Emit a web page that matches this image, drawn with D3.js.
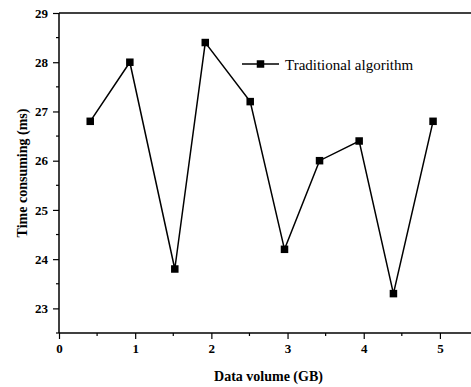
<!DOCTYPE html>
<html>
<head>
<meta charset="utf-8">
<script src="https://cdn.jsdelivr.net/npm/d3@7"></script>
<style>
  body { margin: 0; background: #fff; }
  svg { display: block; }
  text { font-family: "Liberation Serif", "Times New Roman", serif; }
</style>
</head>
<body>
<div id="chart"></div>
<script>
// data
var dataVolume = [0.41, 0.93, 1.52, 1.92, 2.51, 2.96, 3.42, 3.94, 4.39, 4.91];
var timeConsuming = [26.8, 28.0, 23.8, 28.4, 27.2, 24.2, 26.0, 26.4, 23.3, 26.8];
var xTicks = [0, 1, 2, 3, 4, 5];
var yTicks = [23, 24, 25, 26, 27, 28, 29];
var seriesName = "Traditional algorithm";

var W = 471, H = 387;
var margin = {top: 13, left: 59, bottom: 54, right: -7};
var width = W - margin.left - margin.right,
    height = H - margin.top - margin.bottom;

var svg = d3.select("#chart").append("svg")
    .attr("width", W).attr("height", H);
var g = svg.append("g")
    .attr("transform", `translate(${margin.left}, ${margin.top})`);

var x = d3.scaleLinear().domain([0, 5.5]).range([0, width]);
var y = d3.scaleLinear().domain([22.5, 29]).range([height, 0]);

// minor ticks (half steps)
var xMinor = d3.range(0.5, 5.5, 1);
var yMinor = d3.range(22.5, 29, 1);

g.selectAll(".xminor").data(xMinor).enter().append("line")
    .attr("x1", d => x(d)).attr("x2", d => x(d))
    .attr("y1", height).attr("y2", height + 3)
    .attr("stroke", "#000").attr("stroke-width", 1.2);
g.selectAll(".yminor").data(yMinor).enter().append("line")
    .attr("x1", 0).attr("x2", -3)
    .attr("y1", d => y(d)).attr("y2", d => y(d))
    .attr("stroke", "#000").attr("stroke-width", 1.2);

var xAxis = g.append("g")
    .attr("transform", `translate(0, ${height})`)
    .call(d3.axisBottom(x).tickValues(xTicks).tickSize(6).tickPadding(5).tickFormat(d3.format("d")));
var yAxis = g.append("g")
    .call(d3.axisLeft(y).tickValues(yTicks).tickSize(6).tickPadding(5).tickFormat(d3.format("d")));

[xAxis, yAxis].forEach(a => {
  a.select(".domain").attr("stroke", "#000").attr("stroke-width", 1.5);
  a.selectAll(".tick line").attr("stroke", "#000").attr("stroke-width", 1.2);
  a.selectAll(".tick text")
    .attr("fill", "#000")
    .style("font-family", "Liberation Serif, serif")
    .style("font-weight", "bold")
    .style("font-size", "13px");
});
yAxis.select(".domain").attr("d", `M0,${height}V0`);
xAxis.select(".domain").attr("d", `M0,0H${width}`);

// top frame line
g.append("line")
    .attr("x1", 0).attr("x2", width)
    .attr("y1", 0).attr("y2", 0)
    .attr("stroke", "#000").attr("stroke-width", 1.5);

var points = dataVolume.map((v, i) => ({x: v, y: timeConsuming[i]}));

g.append("path")
    .datum(points)
    .attr("fill", "none")
    .attr("stroke", "#000")
    .attr("stroke-width", 1.5)
    .attr("d", d3.line().x(d => x(d.x)).y(d => y(d.y)));

var s = 7.5;
g.selectAll(".pt").data(points).enter().append("rect")
    .attr("x", d => x(d.x) - s / 2)
    .attr("y", d => y(d.y) - s / 2)
    .attr("width", s).attr("height", s)
    .attr("fill", "#000");

// legend
var leg = svg.append("g").attr("transform", "translate(242, 64)");
leg.append("line").attr("x1", 0).attr("x2", 37).attr("y1", 0).attr("y2", 0)
    .attr("stroke", "#000").attr("stroke-width", 1.5);
leg.append("rect").attr("x", 18.5 - s / 2).attr("y", -s / 2)
    .attr("width", s).attr("height", s).attr("fill", "#000");
leg.append("text").attr("x", 43).attr("y", 5.5)
    .style("font-size", "15px").text(seriesName);

// axis titles
svg.append("text")
    .attr("x", margin.left + width / 2).attr("y", 381)
    .attr("text-anchor", "middle")
    .style("font-weight", "bold").style("font-size", "14px")
    .text("Data volume (GB)");
svg.append("text")
    .attr("transform", `translate(27, ${margin.top + height / 2}) rotate(-90)`)
    .attr("text-anchor", "middle")
    .style("font-weight", "bold").style("font-size", "14px")
    .text("Time consuming (ms)");
</script>
</body>
</html>
